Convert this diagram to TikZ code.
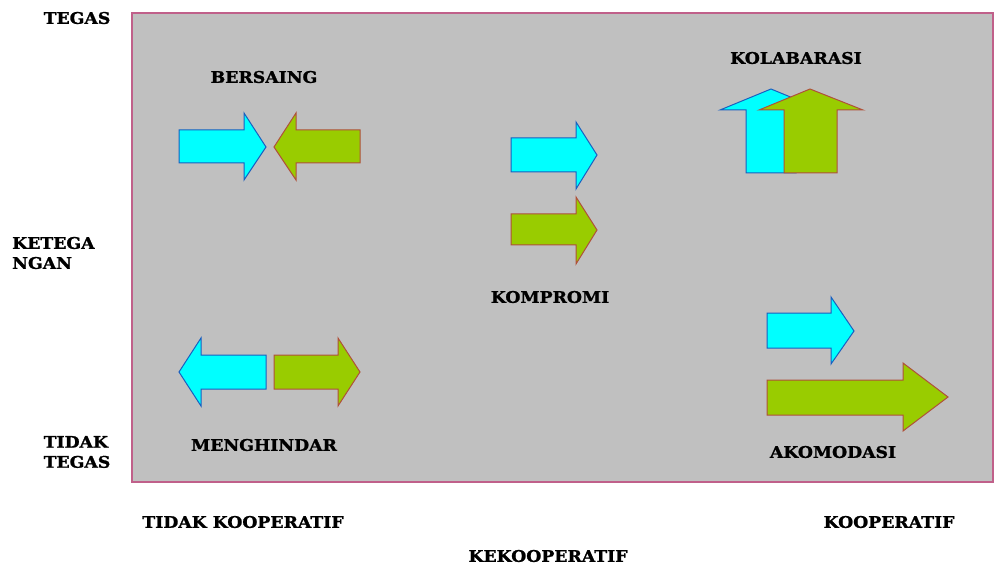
\documentclass[tikz,border=0pt]{standalone}
\usepackage{fontspec}
\setmainfont{DejaVu Serif}
\newfontfamily\lblfont{DejaVu Serif}[BoldFeatures={FakeBold=1.3}]
\begin{document}
\begin{tikzpicture}[x=1pt,y=-1pt,
  lbl/.style={font=\lblfont\bfseries\fontsize{16}{20}\selectfont, inner sep=0pt, xscale=1.08},
  cyanarrow/.style={fill=arrcyan, draw=arrblue, line width=1pt, line join=miter},
  greenarrow/.style={fill=arrgreen, draw=arrbrown, line width=1pt, line join=miter}]
\definecolor{arrcyan}{HTML}{00FFFF}
\definecolor{arrblue}{HTML}{1A5FC0}
\definecolor{arrgreen}{HTML}{99CC00}
\definecolor{arrbrown}{HTML}{B0503A}
\definecolor{panel}{HTML}{C0C0C0}
\definecolor{frame}{HTML}{C0608A}
\useasboundingbox (0,0) rectangle (995,569);
\fill[white] (0,0) rectangle (995,569);
% grid panel
\draw[fill=panel, draw=frame, line width=1.2pt] (132,13) rectangle (993,482);

% BERSAING: two arrows pointing at each other
\draw[cyanarrow] (179,130) -- (244,130) -- (244,113) -- (266,147) -- (244,180) -- (244,163) -- (179,163) -- cycle;
\draw[greenarrow] (360,130) -- (296,130) -- (296,113) -- (274,147) -- (296,180) -- (296,163) -- (360,163) -- cycle;

% KOMPROMI: two parallel arrows
\draw[cyanarrow] (511,138) -- (576,138) -- (576,122) -- (597,155) -- (576,189) -- (576,172) -- (511,172) -- cycle;
\draw[greenarrow] (511,214) -- (576,214) -- (576,197) -- (597,230) -- (576,264) -- (576,245) -- (511,245) -- cycle;

% KOLABARASI: two overlapping upward arrows
\draw[cyanarrow] (746,173) -- (746,110) -- (720,110) -- (771,89) -- (822,110) -- (796,110) -- (796,173) -- cycle;
\draw[greenarrow] (784,173) -- (784,110) -- (759,110) -- (810,89) -- (863,110) -- (837,110) -- (837,173) -- cycle;

% MENGHINDAR: arrows pointing away from each other
\draw[cyanarrow] (266,355) -- (201,355) -- (201,338) -- (179,372) -- (201,406) -- (201,389) -- (266,389) -- cycle;
\draw[greenarrow] (274,355) -- (338,355) -- (338,338) -- (360,372) -- (338,406) -- (338,389) -- (274,389) -- cycle;

% AKOMODASI: short and long arrow
\draw[cyanarrow] (767,313) -- (831,313) -- (831,297) -- (854,331) -- (831,364) -- (831,348) -- (767,348) -- cycle;
\draw[greenarrow] (767,380) -- (903,380) -- (903,363) -- (948,397) -- (903,431) -- (903,415) -- (767,415) -- cycle;

% quadrant labels
\node[lbl] (bersaing) at (264,77) {BERSAING};
\node[lbl] (kolab) at (796,58) {KOLABARASI};
\node[lbl] (kompromi) at (550,297) {KOMPROMI};
\node[lbl] (menghindar) at (264,445) {MENGHINDAR};
\node[lbl] (akomodasi) at (833,452) {AKOMODASI};

% vertical axis labels
\node[lbl] (tegas) at (77,18) {TEGAS};
\node[lbl, anchor=west, align=left] (ketegangan) at (12,253) {KETEGA\\NGAN};
\node[lbl, align=left] (tidaktegas) at (77,452) {TIDAK\\TEGAS};

% horizontal axis labels
\node[lbl] (tidakkoop) at (243,522) {TIDAK KOOPERATIF};
\node[lbl] (koop) at (889,522) {KOOPERATIF};
\node[lbl] (kekoop) at (548,556) {KEKOOPERATIF};
\end{tikzpicture}
\end{document}
